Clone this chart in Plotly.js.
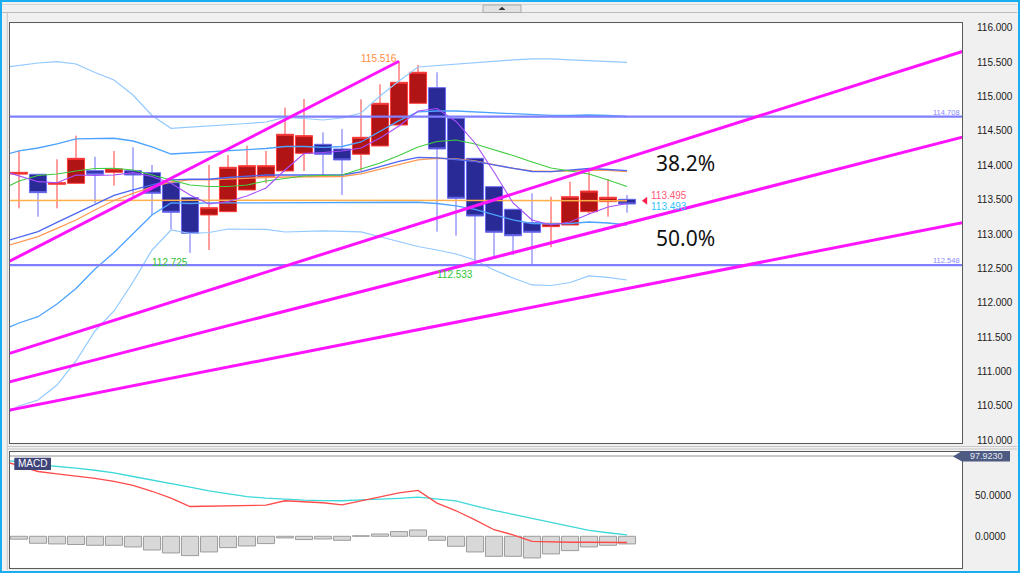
<!DOCTYPE html>
<html><head><meta charset="utf-8">
<script src="https://cdn.plot.ly/plotly-3.0.1.min.js"></script>
<style>html,body{margin:0;padding:0;background:#f0f0f0;overflow:hidden}#chart{width:1020px;height:573px}</style>
</head><body><div id="chart"></div>
<script>
// ---------- DATA ----------
const candleIdx = Array.from({length:33},(_,i)=>i);
const openP  = [113.872,113.870,113.724,113.738,113.922,113.899,113.922,113.893,113.747,113.529,113.277,113.325,113.641,113.835,113.918,114.175,114.306,114.238,114.161,114.282,114.587,114.903,115.131,114.685,114.102,113.689,113.360,113.165,113.107,113.131,113.325,113.471,113.505];
const highP  = [114.209,113.872,114.088,114.432,114.126,114.209,114.263,114.005,113.750,113.530,114.005,114.151,114.286,114.209,114.840,114.966,114.481,114.529,114.962,115.180,115.516,115.461,115.355,114.690,114.110,113.690,113.365,113.593,113.543,113.762,113.947,113.797,113.568];
const lowP   = [113.374,113.252,113.374,113.735,113.447,113.704,113.543,113.277,113.069,112.725,112.767,113.322,113.638,113.738,113.915,113.918,113.859,113.568,113.918,114.279,114.584,114.900,113.034,112.975,112.533,112.680,112.694,112.540,112.807,113.128,113.291,113.252,113.310];
const closeP = [113.898,113.602,113.747,114.102,113.870,113.947,113.859,113.593,113.316,113.010,113.383,113.971,113.995,113.995,114.452,114.432,114.161,114.078,114.408,114.903,115.209,115.355,114.238,113.520,113.262,113.025,112.975,113.025,113.156,113.543,113.626,113.535,113.437];

// indicator lines: first value is at the left edge, then one per candle
const lineIdx = [-0.5].concat(candleIdx);
const bbUpper2 = [115.436,115.454,115.490,115.509,115.476,115.352,115.243,115.024,114.726,114.539,114.554,114.573,114.595,114.609,114.631,114.697,114.682,114.660,114.689,114.762,115.010,115.228,115.432,115.454,115.468,115.490,115.519,115.534,115.549,115.549,115.534,115.519,115.512,115.500];
const bbUpper1 = [114.172,114.209,114.252,114.311,114.384,114.394,114.394,114.354,114.267,114.165,114.180,114.202,114.216,114.231,114.245,114.274,114.274,114.260,114.274,114.340,114.490,114.650,114.777,114.791,114.791,114.777,114.762,114.748,114.733,114.726,114.726,114.733,114.726,114.711];
const bbMiddle = [112.913,112.956,113.034,113.168,113.299,113.437,113.561,113.641,113.714,113.787,113.797,113.797,113.823,113.845,113.859,113.859,113.859,113.859,113.859,113.903,113.976,114.056,114.117,114.107,114.085,114.056,114.005,113.954,113.910,113.907,113.925,113.954,113.939,113.922];
const bbLower1 = [111.646,111.704,111.796,111.981,112.206,112.490,112.731,113.000,113.277,113.452,113.444,113.452,113.452,113.459,113.459,113.459,113.459,113.459,113.459,113.459,113.459,113.459,113.462,113.444,113.408,113.357,113.277,113.204,113.153,113.146,113.153,113.175,113.160,113.131];
const bbLower2 = [110.412,110.495,110.583,110.801,111.151,111.588,111.879,112.301,112.767,113.058,113.007,113.022,113.073,113.073,113.066,113.029,113.037,113.044,113.037,113.030,112.960,112.884,112.818,112.767,112.709,112.622,112.476,112.359,112.258,112.250,112.294,112.389,112.367,112.330];
const emaOrange = [112.840,112.884,112.961,113.083,113.204,113.350,113.488,113.593,113.685,113.757,113.787,113.787,113.801,113.816,113.823,113.830,113.830,113.830,113.837,113.874,113.939,114.012,114.078,114.103,114.092,114.063,114.005,113.954,113.918,113.910,113.918,113.932,113.925,113.910];
const maGreen = [113.706,113.772,113.852,113.874,113.918,113.954,113.957,113.932,113.859,113.787,113.714,113.692,113.692,113.714,113.772,113.808,113.845,113.852,113.859,113.947,114.034,114.143,114.267,114.347,114.369,114.311,114.231,114.143,114.049,113.961,113.918,113.874,113.787,113.692];
const maPurple = [113.888,113.845,113.762,113.747,113.859,113.852,113.859,113.893,113.837,113.738,113.568,113.437,113.473,113.554,113.670,113.932,114.172,114.187,114.209,114.252,114.398,114.573,114.791,114.828,114.638,114.325,113.903,113.452,113.204,113.131,113.175,113.291,113.393,113.444];
const longMaX = [-0.5, 12, 32];
const longMa = [113.486, 113.492, 113.484];

// horizontal levels
const levelValues = [114.708, 112.548];
const levelLabels = ['114.708', '112.548'];

// Fibonacci fan (from left edge to high, plus 38.2 / 50.0 / 61.8 lines)
const fanFromX = [-0.5, -0.5, -0.5, -0.5];
const fanFromY = [112.603, 111.261, 110.847, 110.436];
const fanToX   = [20, 50, 50, 50];
const fanToY   = [115.516, 115.688, 114.434, 113.185];
const fanLabels = ['38.2%', '50.0%'];
const fanLabelY = [114.030, 112.937];

// MACD
const macdLine   = [89.6,86,79,76.2,73.8,70.7,67,62,54.9,46.6,36.3,36.8,37.4,37.8,38.0,43.3,42.1,40.9,38.4,43.3,48.8,53,55.9,40.5,31.1,20.1,8,1.8,-6.1,-7.1,-7.3,-7.3,-7.1,-7.6];
const signalLine = [92,90.9,87.2,85.4,83.2,80.5,77.4,72.9,68.9,64.9,60,55.5,51.8,48.4,46.6,45.1,44.1,43.5,43.3,44.3,45.1,46.3,47.8,45.7,43.3,37.2,31.5,26.8,22,16.5,11.6,7.3,4.3,1.8];
const macdHist   = [-3.5,-8.5,-9.3,-10,-11,-11,-13,-16.7,-20.3,-23.6,-19.1,-13.8,-11.8,-8.9,-2,-4,-3.3,-4.9,0.6,2.8,5.7,7.7,-4.9,-12.2,-19.1,-24.4,-24.4,-26.4,-21.5,-17.5,-13,-11,-9.3];
const macdMax = 97.923;
const macdTicks = [0, 50];
const macdTickText = ['0.0000', '50.0000'];

// price labels
const highLabel = {idx: 20, value: '115.516'};
const lowLabels = [{idx: 9, value: '112.725'}, {idx: 24, value: '112.533'}];
const lastBid = 113.495, lastAsk = 113.493;

// ---------- DRAWING ----------
const W = 1020, H = 573;
const px = x => x / W, py = y => 1 - y / H;
const xr = [-0.4737, 49.63];
const FONT = 'Liberation Sans, Arial, sans-serif';

const traces = [];
traces.push({
  type: 'candlestick', x: candleIdx, open: openP, high: highP, low: lowP, close: closeP,
  xaxis: 'x', yaxis: 'y', whiskerwidth: 0,
  increasing: {fillcolor: '#b01414', line: {color: '#ff3c3c', width: 1}},
  decreasing: {fillcolor: '#2a2a96', line: {color: '#6a6af2', width: 1}},
  hoverinfo: 'skip'
});
function ln(x, y, color, width, xa, ya) {
  return {type: 'scatter', mode: 'lines', x: x, y: y, xaxis: xa || 'x', yaxis: ya || 'y',
    line: {color: color, width: width}, hoverinfo: 'skip'};
}
traces.push(ln(longMaX, longMa, '#ffb04a', 1.5));
traces.push(ln(lineIdx, bbUpper2, '#92c9ff', 1.2));
traces.push(ln(lineIdx, bbLower2, '#92c9ff', 1.2));
traces.push(ln(lineIdx, bbUpper1, '#4da3ff', 1.3));
traces.push(ln(lineIdx, bbLower1, '#4da3ff', 1.3));
traces.push(ln(lineIdx, emaOrange, '#ff9a55', 1.3));
traces.push(ln(lineIdx, bbMiddle, '#4d66f0', 1.3));
traces.push(ln(lineIdx, maGreen, '#3fcc3f', 1.1));
traces.push(ln(lineIdx, maPurple, '#a64dff', 1.1));
levelValues.forEach(v => traces.push(ln([-0.5, 50], [v, v], '#7f7fff', 2.2)));
for (let i = 0; i < fanFromX.length; i++) {
  traces.push(ln([fanFromX[i], fanToX[i]], [fanFromY[i], fanToY[i]], '#ff14ff', 3));
}
traces.push({type: 'scatter', mode: 'markers', x: [32.97], y: [(lastBid + lastAsk) / 2 - 0.009],
  marker: {symbol: 'triangle-left', size: 7, color: '#ff2050'}, hoverinfo: 'skip', xaxis: 'x', yaxis: 'y'});

// MACD panel
traces.push({type: 'bar', x: candleIdx, y: macdHist, width: 0.9, xaxis: 'x2', yaxis: 'y2',
  marker: {color: '#d8d8d8', line: {color: '#9c9c9c', width: 1}}, hoverinfo: 'skip'});
traces.push(ln([-0.5, 50], [macdMax, macdMax], '#b4b4b4', 1.6, 'x2', 'y2'));
traces.push(ln(lineIdx, signalLine, '#3ed8d8', 1.3, 'x2', 'y2'));
traces.push(ln(lineIdx, macdLine, '#ff4a4a', 1.3, 'x2', 'y2'));

const ann = [];
ann.push({x: highLabel.idx, y: 115.559, xref: 'x', yref: 'y', text: highLabel.value, showarrow: false,
  xanchor: 'right', yanchor: 'middle', font: {family: FONT, size: 10, color: '#ff8a3d'}});
lowLabels.forEach((l, k) => ann.push({x: l.idx, y: k === 0 ? 112.592 : 112.403, xref: 'x', yref: 'y', text: l.value,
  showarrow: false, xanchor: 'right', yanchor: 'middle', font: {family: FONT, size: 10, color: '#33c433'}}));
levelValues.forEach((v, k) => ann.push({x: px(962), xref: 'paper', y: v + 0.064, yref: 'y', text: levelLabels[k],
  showarrow: false, xanchor: 'right', yanchor: 'middle', font: {family: FONT, size: 7.5, color: '#8a8aff'}}));
ann.push({x: 33.21, y: 113.560, xref: 'x', yref: 'y', text: lastBid.toFixed(3), showarrow: false, borderpad: 0,
  xanchor: 'left', yanchor: 'middle', font: {family: FONT, size: 10, color: '#ff5a78'}});
ann.push({x: 33.21, y: 113.405, xref: 'x', yref: 'y', text: lastAsk.toFixed(3), showarrow: false, borderpad: 0,
  xanchor: 'left', yanchor: 'middle', font: {family: FONT, size: 10, color: '#35c3ff'}});
fanLabels.forEach((t, k) => ann.push({x: 33.40, y: fanLabelY[k], xref: 'x', yref: 'y', text: t, showarrow: false,
  xanchor: 'left', yanchor: 'middle', font: {family: 'Noto Sans, sans-serif', size: 21, color: '#111'}}));
ann.push({x: px(32.6), y: py(463.8), xref: 'paper', yref: 'paper', text: 'MACD', showarrow: false,
  xanchor: 'center', yanchor: 'middle', font: {family: FONT, size: 10, color: '#ffffff'}});
ann.push({x: px(986), y: py(456.3), xref: 'paper', yref: 'paper', text: macdMax.toFixed(4), showarrow: false,
  xanchor: 'center', yanchor: 'middle', font: {family: FONT, size: 9, color: '#e4e8f2'}});

function hline(y, x0, x1, c, w) {
  return {type: 'line', xref: 'paper', yref: 'paper', x0: px(x0), x1: px(x1), y0: py(y), y1: py(y), line: {color: c, width: w || 1}};
}
const shapes = [
  hline(4.5, 2, 1017, '#d6d6d6'),
  hline(12.5, 2, 1017, '#bdbdbd'),
  {type: 'line', xref: 'paper', yref: 'paper', x0: px(7.3), x1: px(7.3), y0: py(13), y1: py(570), line: {color: '#c4c4c4', width: 1}},
  hline(446.5, 7, 1017, '#c6c6c6'),
  hline(449, 7, 1017, '#c6c6c6'),
  {type: 'rect', xref: 'paper', yref: 'paper', x0: px(483), x1: px(521), y0: py(12.5), y1: py(5), fillcolor: '#e2e2e2', line: {color: '#a9a9a9', width: 1}},
  {type: 'path', xref: 'paper', yref: 'paper', path: `M ${px(498.5)} ${py(10)} L ${px(505.5)} ${py(10)} L ${px(502)} ${py(6.8)} Z`, fillcolor: '#333', line: {width: 0}},
  {type: 'rect', xref: 'paper', yref: 'paper', x0: px(14.3), x1: px(51), y0: py(470), y1: py(457.7), fillcolor: '#3f4479', line: {width: 0}},
  {type: 'path', xref: 'paper', yref: 'paper',
   path: `M ${px(953)} ${py(456.5)} L ${px(962)} ${py(451)} L ${px(1010)} ${py(451)} L ${px(1010)} ${py(461.5)} L ${px(962)} ${py(461.5)} Z`,
   fillcolor: '#4d5b82', line: {width: 0}},
  {type: 'rect', xref: 'paper', yref: 'paper', x0: 0, x1: 1, y0: 0, y1: 1, line: {color: '#18aef0', width: 4}}
];

const axBase = {showgrid: false, zeroline: false, showline: true, mirror: true, linecolor: '#5a5a5a', linewidth: 1};
const layout = {
  width: W, height: H, margin: {l: 0, r: 0, t: 0, b: 0}, autosize: false,
  paper_bgcolor: '#f0f0f0', plot_bgcolor: '#ffffff', showlegend: false, hovermode: false,
  boxgap: 0.1, boxgroupgap: 0, bargap: 0.1,
  xaxis: Object.assign({}, axBase, {domain: [px(10), px(962)], range: xr, showticklabels: false, ticks: '', anchor: 'y', rangeslider: {visible: false}}),
  yaxis: Object.assign({}, axBase, {domain: [py(442.7), py(23.3)], range: [109.961, 116.068], side: 'right', anchor: 'x',
    tick0: 110, dtick: 0.5, tickformat: '.3f', ticks: '', ticklabelstandoff: 12,
    tickfont: {family: FONT, size: 10, color: '#1a1a1a'}}),
  xaxis2: Object.assign({}, axBase, {domain: [px(10), px(962)], range: xr, showticklabels: false, ticks: '', anchor: 'y2'}),
  yaxis2: Object.assign({}, axBase, {domain: [py(567.7), py(452.3)], range: [-38.3, 102.4], side: 'right', anchor: 'x2',
    tickvals: macdTicks, ticktext: macdTickText, ticks: '', ticklabelstandoff: 10,
    tickfont: {family: FONT, size: 10, color: '#1a1a1a'}}),
  annotations: ann, shapes: shapes
};
Plotly.newPlot('chart', traces, layout, {displayModeBar: false, staticPlot: true});
</script></body></html>
